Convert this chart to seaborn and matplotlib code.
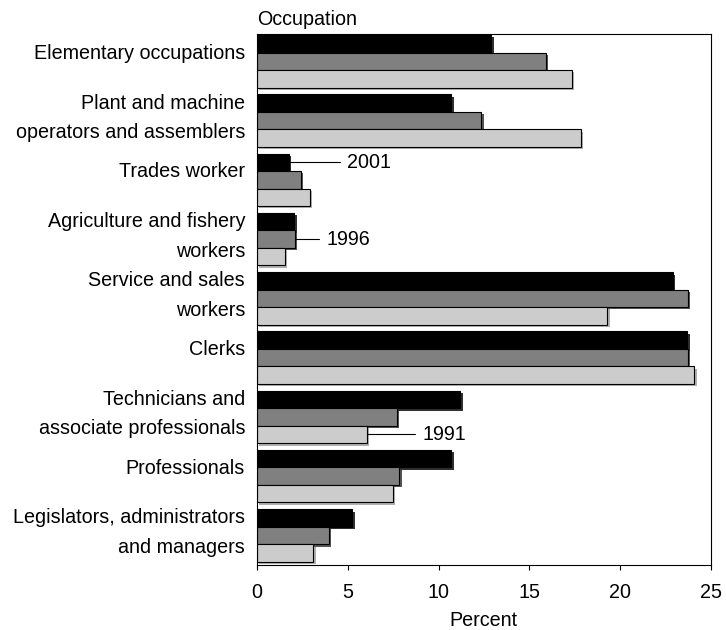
import pandas as pd
import matplotlib
import matplotlib.pyplot as plt
import matplotlib.patheffects as pe
from matplotlib.transforms import ScaledTranslation
import seaborn as sns

matplotlib.use('Agg')

# data (percent)
occupations = [
    'Elementary occupations',
    'Plant and machine\noperators and assemblers',
    'Trades worker',
    'Agriculture and fishery\nworkers',
    'Service and sales\nworkers',
    'Clerks',
    'Technicians and\nassociate professionals',
    'Professionals',
    'Legislators, administrators\nand managers',
]
years = ['2001', '1996', '1991']
pct_2001 = [12.9, 10.7, 1.75, 2.05, 22.9, 23.7, 11.2, 10.7, 5.25]
pct_1996 = [15.9, 12.35, 2.4, 2.1, 23.75, 23.75, 7.7, 7.85, 3.95]
pct_1991 = [17.35, 17.85, 2.9, 1.55, 19.3, 24.1, 6.05, 7.5, 3.1]

df = pd.DataFrame({
    'occupation': occupations * 3,
    'year': [y for y in years for _ in occupations],
    'percent': pct_2001 + pct_1996 + pct_1991,
})

sns.set_theme(style='ticks', rc={'text.color': 'black', 'axes.labelcolor': 'black',
                                 'xtick.color': 'black', 'ytick.color': 'black'})
plt.rcParams['font.family'] = ['Liberation Sans', 'DejaVu Sans']
plt.rcParams['font.size'] = 14.2

fig = plt.figure(figsize=(7.26, 6.3), dpi=100)
ax = fig.add_axes([0.354, 0.103, 0.625, 0.843])

colors = ['#000000', '#808080', '#cccccc']
shadows = ['#303030', '#555555', '#b0b0b0']

sns.barplot(data=df, y='occupation', x='percent', hue='year', hue_order=years,
            palette=colors, saturation=1, width=0.885, orient='h',
            edgecolor='black', linewidth=0.8, legend=False, ax=ax)

# drop shadows on bars
for cont, sh in zip(ax.containers, shadows):
    for bar in cont:
        bar.set_path_effects([pe.SimplePatchShadow(offset=(1.7, -1.7), shadow_rgbFace=sh, alpha=1),
                              pe.Normal()])

# year labels with leader lines
notes = [(0, 2, 4.57, '2001'), (1, 3, 3.41, '1996'), (2, 6, 8.7, '1991')]
for k, i, x_end, txt in notes:
    bar = ax.containers[k][i]
    yc = bar.get_y() + bar.get_height() / 2
    ax.plot([bar.get_width(), x_end], [yc, yc], color='black', lw=0.8)
    ax.text(x_end + 0.4, yc, txt, va='center', ha='left', fontsize=14.2)

ax.set_xlim(0, 25)
ax.set_ylim(8.5, -0.46)
ax.set_xticks([0, 5, 10, 15, 20, 25])
ax.set_xlabel('Percent', fontsize=14.2, labelpad=7)
ax.set_ylabel('')
ax.tick_params(axis='x', length=3.6, width=0.8, pad=9, labelsize=14.2, direction='out')
ax.tick_params(axis='y', length=0, pad=8.6, labelsize=14.2)
for lab in ax.get_yticklabels():
    lab.set_linespacing(1.7)
    lab.set_transform(lab.get_transform() + ScaledTranslation(0, 0.1, fig.dpi_scale_trans))

for s in ax.spines.values():
    s.set_linewidth(0.8)
    s.set_color('black')

ax.annotate('Occupation', xy=(0, 1), xycoords='axes fraction', xytext=(0, 6.5),
            textcoords='offset points', ha='left', va='baseline', fontsize=14.2)

fig.savefig('out.png', dpi=100)
